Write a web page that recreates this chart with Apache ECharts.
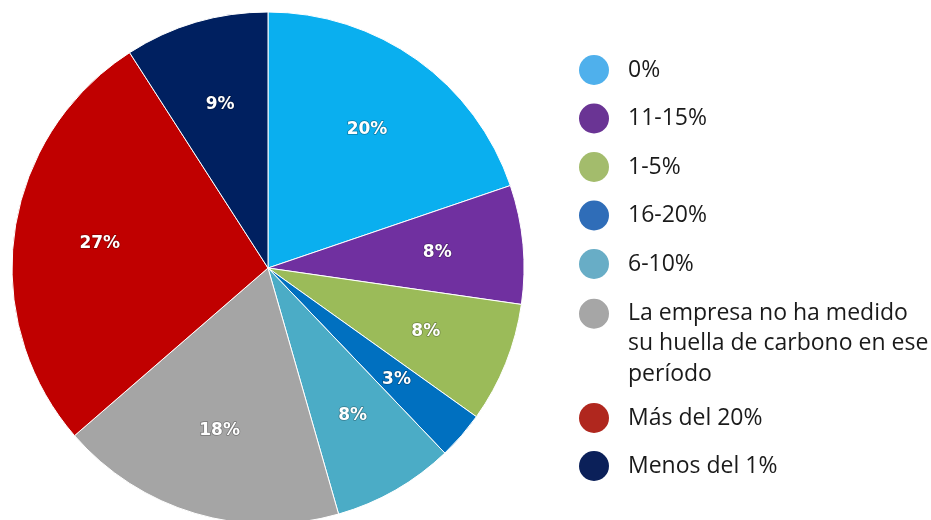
<!DOCTYPE html>
<html>
<head>
<meta charset="utf-8">
<script src="https://cdn.jsdelivr.net/npm/echarts@6/dist/echarts.min.js"></script>
<style>
  html, body { margin: 0; padding: 0; background: #fff; }
  #chart { width: 931px; height: 520px; }
</style>
</head>
<body>
<div id="chart"></div>
<script>
const categories = ['0%', '11-15%', '1-5%', '16-20%', '6-10%',
  'La empresa no ha medido su huella de carbono en ese período',
  'Más del 20%', 'Menos del 1%'];
const values = [19.8, 7.5, 7.6, 3.0, 7.7, 18.1, 27.3, 9.1];
const sliceColors = ['#0AAFEF', '#7030A0', '#9BBB59', '#0070C0', '#4BACC6', '#A5A5A5', '#C00000', '#002060'];
const legendColors = ['#4FB0EC', '#6A3494', '#A3BC6C', '#2F6DB8', '#68ADC6', '#A6A6A6', '#B0271E', '#0B2059'];

const chart = echarts.init(document.getElementById('chart'));

const pieData = categories.map((name, i) => ({
  name: name,
  value: values[i],
  itemStyle: { color: sliceColors[i] }
}));

function legendItems(idx, icon) {
  return idx.map(i => ({
    name: categories[i],
    icon: icon || 'circle',
    itemStyle: { color: legendColors[i], borderWidth: 0 }
  }));
}

const legendText = {
  fontFamily: 'Open Sans',
  fontSize: 23,
  color: '#1a1a1a',
  padding: [0, 0, 0, 14]
};

let option = {
  animation: false,
  legend: [
    {
      orient: 'vertical',
      left: 574,
      top: 50,
      itemWidth: 30,
      itemHeight: 30,
      itemGap: 18.5,
      selectedMode: false,
      textStyle: legendText,
      data: legendItems([0, 1, 2, 3, 4])
    },
    {
      orient: 'vertical',
      left: 574,
      top: 293,
      itemWidth: 30,
      itemHeight: 90,
      selectedMode: false,
      textStyle: Object.assign({}, legendText, { lineHeight: 30.5 }),
      formatter: () => 'La empresa no ha medido\nsu huella de carbono en ese\nperíodo',
      data: legendItems([5], 'path://M15,0 A15,15 0 1 1 15,30 A15,15 0 1 1 15,0 Z M15,90 L15.01,90 Z')
    },
    {
      orient: 'vertical',
      left: 574,
      top: 398,
      itemWidth: 30,
      itemHeight: 30,
      itemGap: 18,
      selectedMode: false,
      textStyle: legendText,
      data: legendItems([6, 7])
    }
  ],
  series: [
    {
      type: 'pie',
      center: [268, 268],
      radius: 256,
      startAngle: 90,
      clockwise: true,
      silent: true,
      label: { show: false },
      labelLine: { show: false },
      itemStyle: { borderColor: '#ffffff', borderWidth: 1 },
      data: pieData
    },
    {
      // capa transparente solo para colocar las etiquetas
      type: 'pie',
      center: [268, 268],
      radius: [78, 256],
      startAngle: 90,
      clockwise: true,
      silent: true,
      itemStyle: { color: 'rgba(0,0,0,0)' },
      label: {
        show: true,
        position: 'inside',
        formatter: p => Math.round(p.value) + '%',
        fontFamily: 'DejaVu Sans',
        fontWeight: 'bold',
        fontSize: 17,
        color: '#ffffff',
        textBorderColor: 'rgba(0,0,0,0.3)',
        textBorderWidth: 1.5
      },
      labelLine: { show: false },
      data: categories.map((name, i) => ({ name: name, value: values[i] }))
    }
  ]
};

chart.setOption(option);
</script>
</body>
</html>
